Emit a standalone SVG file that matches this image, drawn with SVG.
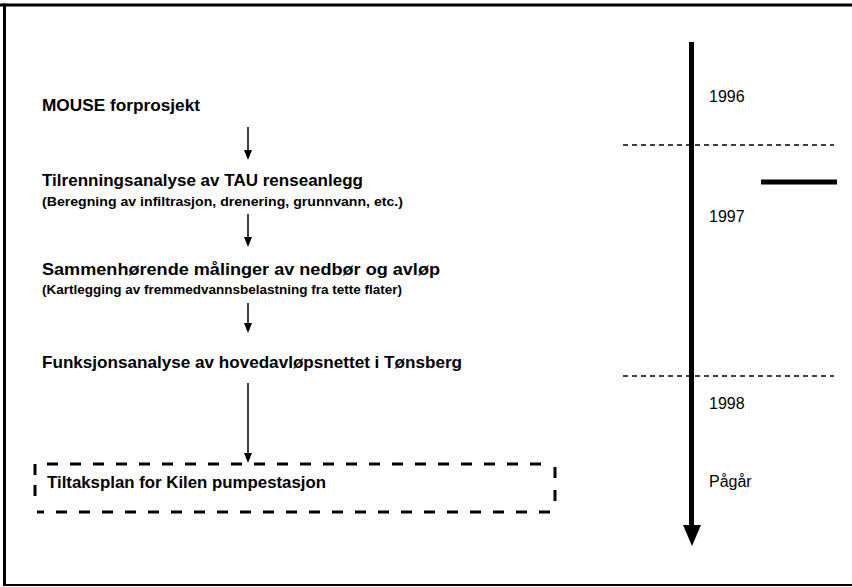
<svg xmlns="http://www.w3.org/2000/svg" width="852" height="587" viewBox="0 0 852 587">
<style>
.t{font-family:"Liberation Sans",Arial,sans-serif;font-weight:bold;font-size:17px;fill:#000}
.s{font-family:"Liberation Sans",Arial,sans-serif;font-weight:bold;font-size:13.5px;fill:#000}
.y{font-family:"Liberation Sans",Arial,sans-serif;font-size:16px;fill:#000}
.c{stroke:#000;stroke-width:1.5;fill:none}
.d{stroke:#000;stroke-width:1.3;stroke-dasharray:5 4;fill:none}
.b{stroke:#000;stroke-width:3;stroke-dasharray:11 12;fill:none}
</style>
<g id="frame">
<line x1="0" y1="5" x2="852" y2="5" stroke="#000" stroke-width="3"/>
<line x1="4.5" y1="3.5" x2="4.5" y2="586" stroke="#000" stroke-width="3"/>
<line x1="3" y1="585" x2="852" y2="585" stroke="#000" stroke-width="2"/>
</g>
<g id="n1"><text class="t" x="42" y="111" textLength="158" lengthAdjust="spacingAndGlyphs">MOUSE forprosjekt</text></g>
<g id="n2"><text class="t" x="42" y="186" textLength="321" lengthAdjust="spacingAndGlyphs">Tilrenningsanalyse av TAU renseanlegg</text>
<text class="s" x="42" y="206" textLength="361" lengthAdjust="spacingAndGlyphs">(Beregning av infiltrasjon, drenering, grunnvann, etc.)</text></g>
<g id="n3"><text class="t" x="42" y="275" textLength="398" lengthAdjust="spacingAndGlyphs">Sammenhørende målinger av nedbør og avløp</text>
<text class="s" x="42" y="294" textLength="360" lengthAdjust="spacingAndGlyphs">(Kartlegging av fremmedvannsbelastning fra tette flater)</text></g>
<g id="n4"><text class="t" x="42" y="368" textLength="420" lengthAdjust="spacingAndGlyphs">Funksjonsanalyse av hovedavløpsnettet i Tønsberg</text></g>
<g id="n5">
<path class="b" d="M35,475 V464 H545"/>
<path class="b" d="M555,467 V502"/>
<path class="b" d="M550,512 H37"/>
<path class="b" d="M35,485 V497"/>
<text class="t" x="47" y="488" style="font-size:16px" textLength="279" lengthAdjust="spacingAndGlyphs">Tiltaksplan for Kilen pumpestasjon</text>
</g>
<g id="connectors">
<line class="c" x1="248" y1="127" x2="248" y2="152"/>
<path d="M244,150 L252,150 L248,160 Z"/>
<line class="c" x1="248" y1="214" x2="248" y2="239"/>
<path d="M244,237 L252,237 L248,247 Z"/>
<line class="c" x1="248" y1="303" x2="248" y2="325"/>
<path d="M244,323 L252,323 L248,333 Z"/>
<line class="c" x1="248" y1="383" x2="248" y2="455"/>
<path d="M244,453 L252,453 L248,463 Z"/>
</g>
<g id="timeline">
<line x1="691.5" y1="42" x2="691.5" y2="528" stroke="#000" stroke-width="5"/>
<path d="M683,525 L701,525 L692,546 Z"/>
<line class="d" x1="623" y1="145" x2="834" y2="145"/>
<line class="d" x1="623" y1="376" x2="834" y2="376"/>
<line x1="761" y1="182" x2="837" y2="182" stroke="#000" stroke-width="5"/>
<text class="y" x="709" y="102">1996</text>
<text class="y" x="709" y="222">1997</text>
<text class="y" x="709" y="409">1998</text>
<text class="y" x="709" y="487">Pågår</text>
</g>
</svg>
